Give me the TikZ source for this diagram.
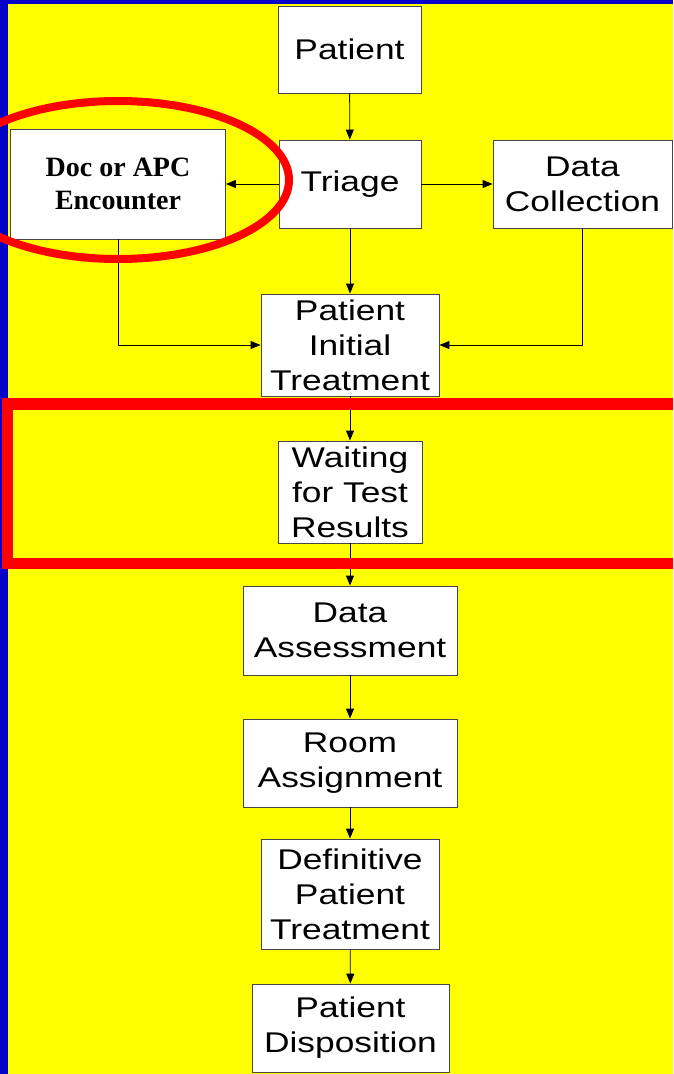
\documentclass[tikz,border=0pt]{standalone}
\usepackage{fontspec}
\setmainfont{Liberation Sans}[FakeStretch=1.24]
\newfontfamily\docfont{Liberation Serif}
\usetikzlibrary{arrows.meta}
\definecolor{slideyellow}{RGB}{255,255,0}
\definecolor{slideblue}{RGB}{0,0,200}
\definecolor{boxedge}{RGB}{70,70,70}
\tikzset{
  stage/.style={draw=boxedge,fill=white,line width=0.9pt,align=center,inner sep=0pt,
    font=\fontsize{28.5}{35}\selectfont},
  flow/.style={draw=black,line width=0.9pt,-{Triangle[length=10pt,width=8pt]}},
}
\begin{document}
\begin{tikzpicture}[x=1pt,y=-1pt]
\useasboundingbox (0,0) rectangle (673,1074);
\clip (0,0) rectangle (673,1074);
\fill[slideyellow] (0,0) rectangle (673,1074);
\fill[slideblue] (0,0) rectangle (673,4);
\fill[slideblue] (0,0) rectangle (7.5,1074);
% the boxes
\node[stage,minimum width=143pt,minimum height=87pt] (pat) at (349.5,49.5) {Patient};
\node[stage,minimum width=215pt,minimum height=110pt,font=\docfont\bfseries\fontsize{28}{33}\selectfont] (doc) at (118,184) {Doc or APC\\Encounter};
\node[stage,minimum width=142pt,minimum height=88pt] (tri) at (350,184) {Triage};
\node[stage,minimum width=179pt,minimum height=88pt] (dcol) at (582.5,184) {Data\\Collection};
\node[stage,minimum width=178pt,minimum height=102pt] (pit) at (350,345) {Patient\\Initial\\Treatment};
\node[stage,minimum width=144pt,minimum height=102pt] (wait) at (350,492) {Waiting\\for Test\\Results};
\node[stage,minimum width=214pt,minimum height=89pt] (dass) at (350,630.5) {Data\\Assessment};
\node[stage,minimum width=214pt,minimum height=88pt] (room) at (350,763) {Room\\Assignment};
\node[stage,minimum width=178pt,minimum height=110pt] (defi) at (350,894) {Definitive\\Patient\\Treatment};
\node[stage,minimum width=197pt,minimum height=88pt] (disp) at (350.5,1028) {Patient\\Disposition};
% the connectors
\draw[flow] (pat) -- (tri);
\draw[flow] (tri) -- (doc);
\draw[flow] (tri) -- (dcol);
\draw[flow] (tri) -- (pit);
\draw[flow] (doc.south) |- (pit.west);
\draw[flow] (dcol.south) |- (pit.east);
\draw[flow] (pit) -- (wait);
\draw[flow] (wait) -- (dass);
\draw[flow] (dass) -- (room);
\draw[flow] (room) -- (defi);
\draw[flow] (defi) -- (disp);
% red marks
\draw[red,line width=8pt] (118,180) ellipse [x radius=171,y radius=79];
\draw[red,line width=11.5pt] (7.5,404) rectangle (700,563.5);
\end{tikzpicture}
\end{document}
